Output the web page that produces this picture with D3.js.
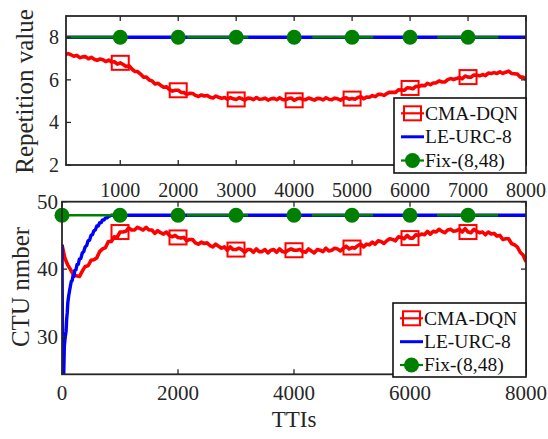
<!DOCTYPE html>
<html>
<head>
<meta charset="utf-8">
<script src="https://cdn.jsdelivr.net/npm/d3@7"></script>
<style>
  body { margin: 0; background: #fff; }
  svg { display: block; }
</style>
</head>
<body>
<svg id="chart" width="548" height="439" font-family="'Liberation Serif', 'Times New Roman', Times, serif"></svg>
<script>
// ---- data ----
// CMA-DQN samples, one every 50 TTIs from 0 to 8000
const cmaTTI = d3.range(0, 8001, 50);
const cmaRepetition = [
  7.25, 7.18, 7.23, 7.18, 7.11, 7.15, 7.04, 7.08, 7.09, 6.99,
  7.06, 6.97, 6.92, 6.98, 6.95, 6.86, 6.93, 6.84, 6.85, 6.74,
  6.80, 6.72, 6.63, 6.66, 6.51, 6.40, 6.39, 6.27, 6.13, 6.13,
  5.99, 5.95, 5.81, 5.84, 5.74, 5.65, 5.67, 5.54, 5.47, 5.51,
  5.51, 5.41, 5.40, 5.32, 5.37, 5.36, 5.27, 5.22, 5.29, 5.24,
  5.27, 5.18, 5.15, 5.24, 5.18, 5.13, 5.17, 5.09, 5.17, 5.11,
  5.08, 5.16, 5.11, 5.05, 5.14, 5.13, 5.07, 5.17, 5.09, 5.10,
  5.14, 5.05, 5.11, 5.13, 5.07, 5.16, 5.08, 5.06, 5.12, 5.15,
  5.04, 5.11, 5.14, 5.08, 5.07, 5.15, 5.10, 5.05, 5.13, 5.12,
  5.06, 5.16, 5.09, 5.07, 5.14, 5.11, 5.05, 5.13, 5.16, 5.09,
  5.12, 5.09, 5.17, 5.21, 5.11, 5.19, 5.18, 5.26, 5.21, 5.32,
  5.32, 5.27, 5.36, 5.42, 5.41, 5.41, 5.53, 5.52, 5.51, 5.63,
  5.62, 5.58, 5.70, 5.69, 5.74, 5.72, 5.84, 5.77, 5.85, 5.86,
  5.95, 5.90, 5.90, 6.01, 6.06, 6.02, 6.06, 6.11, 6.05, 6.18,
  6.13, 6.12, 6.23, 6.22, 6.19, 6.25, 6.20, 6.32, 6.30, 6.34,
  6.30, 6.38, 6.30, 6.36, 6.41, 6.30, 6.29, 6.27, 6.13, 6.13,
  6.02
];
const cmaCtu = [
  43.6, 41.6, 40.6, 39.9, 39.1, 39.0, 38.9, 39.7, 40.4, 40.5,
  41.3, 41.4, 41.7, 42.6, 43.0, 43.2, 44.1, 44.1, 44.8, 44.7,
  45.5, 45.5, 45.6, 46.1, 45.8, 45.8, 46.2, 46.0, 45.8, 46.2,
  45.8, 45.8, 45.3, 45.7, 45.4, 45.2, 45.5, 45.0, 44.8, 45.0,
  44.7, 44.6, 44.7, 44.2, 44.4, 44.4, 43.9, 43.7, 44.0, 43.8,
  43.9, 43.5, 43.3, 43.7, 43.4, 43.1, 43.3, 42.8, 43.3, 42.9,
  42.9, 43.1, 42.9, 42.5, 42.9, 42.9, 42.5, 43.0, 42.6, 42.6,
  42.9, 42.4, 42.8, 42.9, 42.5, 43.0, 42.6, 42.5, 42.8, 43.0,
  42.8, 42.8, 42.9, 42.6, 42.5, 43.0, 42.7, 42.4, 42.9, 42.8,
  42.6, 43.1, 42.7, 42.8, 43.1, 43.0, 42.7, 43.1, 43.4, 43.0,
  43.2, 43.1, 43.5, 43.7, 43.3, 43.7, 43.6, 44.0, 43.7, 44.2,
  44.1, 43.8, 44.2, 44.5, 44.4, 44.2, 44.8, 44.7, 44.5, 45.0,
  44.6, 44.6, 45.1, 45.0, 45.2, 45.1, 45.6, 45.2, 45.6, 45.5,
  45.9, 45.6, 45.4, 45.8, 45.9, 45.6, 45.7, 45.9, 45.5, 46.0,
  45.5, 45.4, 45.9, 45.6, 45.4, 45.5, 45.1, 45.5, 45.2, 45.3,
  44.9, 45.0, 44.4, 44.5, 44.5, 43.8, 43.6, 43.3, 42.5, 42.1,
  41.1
];

// LE-URC-8
const leUrcRepTTI = [0, 8000];
const leUrcRepetition = [8, 8];
const leUrcCtuTTI = [
  0, 5, 10, 20, 30, 40, 50, 60, 70, 80, 90, 100, 115, 130, 145, 160, 175, 190,
  205, 220, 240, 260, 280, 300, 325, 350, 375, 400, 425, 450, 475, 500, 525,
  550, 575, 600, 625, 650, 675, 700, 725, 750, 775, 800, 825, 850, 8000
];
const leUrcCtu = [
  43.6, 35.0, 24.0, 24.0, 24.5, 28.5, 29.5, 30.2, 30.8, 32.5, 33.5, 35.0, 36.0,
  36.8, 37.5, 38.2, 38.3, 39.0, 38.9, 39.8, 39.9, 40.7, 40.7, 41.5, 41.6, 42.4,
  42.6, 43.3, 43.5, 44.2, 44.3, 45.0, 45.1, 45.7, 45.8, 46.4, 46.4, 46.9, 46.9,
  47.3, 47.3, 47.6, 47.6, 47.8, 47.9, 48.0, 48.0
];

// Fix-(8,48)
const fixTTI = [0, 8000];
const fixRepetition = [8, 8];
const fixCtu = [48, 48];

// marker positions along the curves
const squareTTIs = [1000, 2000, 3000, 4000, 5000, 6000, 7000];
const circleTTIs = [0, 1000, 2000, 3000, 4000, 5000, 6000, 7000];

// axes
const repTicks = [2, 4, 6, 8];
const repTTITicks = [1000, 2000, 3000, 4000, 5000, 6000, 7000, 8000];
const ctuTicks = [30, 40, 50];
const ctuTTITicks = [0, 2000, 4000, 6000, 8000];
const seriesNames = ["CMA-DQN", "LE-URC-8", "Fix-(8,48)"];
const seriesColors = ["#ff0000", "#0000ff", "#008000"];

// ---- drawing ----
const svg = d3.select("#chart");
svg.append("rect").attr("width", 548).attr("height", 439).attr("fill", "#fff");

const AXIS = "#262626";
const TEXT = "#262626";

function panel(cfg) {
  const x = d3.scaleLinear().domain(cfg.xDomain).range([cfg.left, cfg.right]);
  const y = d3.scaleLinear().domain(cfg.yDomain).range([cfg.bottom, cfg.top]);
  const g = svg.append("g");

  const clipId = "clip-" + cfg.id;
  svg.append("clipPath").attr("id", clipId)
    .append("rect")
    .attr("x", cfg.left).attr("y", cfg.top)
    .attr("width", cfg.right - cfg.left).attr("height", cfg.bottom - cfg.top);

  const plot = g.append("g").attr("clip-path", `url(#${clipId})`);
  const line = d3.line().x(d => x(d[0])).y(d => y(d[1]));
  const zipped = (xs, ys) => xs.map((v, i) => [v, ys[i]]);

  // CMA-DQN
  plot.append("path")
    .attr("d", line(zipped(cmaTTI, cfg.cma)))
    .attr("fill", "none").attr("stroke", seriesColors[0])
    .attr("stroke-width", 3.6).attr("stroke-linejoin", "round");
  // LE-URC-8
  plot.append("path")
    .attr("d", line(zipped(cfg.leX, cfg.leY)))
    .attr("fill", "none").attr("stroke", seriesColors[1])
    .attr("stroke-width", 3.4).attr("stroke-linejoin", "round");
  // Fix-(8,48), drawn over the coincident LE-URC-8 line
  plot.append("path")
    .attr("d", line(zipped(fixTTI, cfg.fix)))
    .attr("fill", "none").attr("stroke", seriesColors[2])
    .attr("stroke-width", 2.6).attr("stroke-dasharray", "61,64");

  // square markers on CMA-DQN
  plot.selectAll("rect.sq").data(squareTTIs).join("rect")
    .attr("class", "sq")
    .attr("x", d => x(d) - 8.5)
    .attr("y", d => y(cfg.cma[cmaTTI.indexOf(d)]) - 7)
    .attr("width", 17).attr("height", 14)
    .attr("fill", "none").attr("stroke", seriesColors[0]).attr("stroke-width", 2);

  // circle markers on Fix-(8,48)
  g.selectAll("circle.fx").data(circleTTIs.filter(d => d >= cfg.xDomain[0])).join("circle")
    .attr("class", "fx")
    .attr("cx", d => x(d)).attr("cy", y(cfg.fix[0])).attr("r", 7.5)
    .attr("fill", seriesColors[2]);

  // ticks pointing inward on all four sides
  const tl = 5;
  const tk = g.append("g").attr("stroke", AXIS).attr("stroke-width", 1.3);
  cfg.xTicks.forEach(t => {
    tk.append("line").attr("x1", x(t)).attr("x2", x(t)).attr("y1", cfg.bottom).attr("y2", cfg.bottom - tl);
    tk.append("line").attr("x1", x(t)).attr("x2", x(t)).attr("y1", cfg.top).attr("y2", cfg.top + tl);
  });
  cfg.yTicks.forEach(t => {
    tk.append("line").attr("x1", cfg.left).attr("x2", cfg.left + tl).attr("y1", y(t)).attr("y2", y(t));
    tk.append("line").attr("x1", cfg.right).attr("x2", cfg.right - tl).attr("y1", y(t)).attr("y2", y(t));
  });

  // frame
  g.append("rect")
    .attr("x", cfg.left).attr("y", cfg.top)
    .attr("width", cfg.right - cfg.left).attr("height", cfg.bottom - cfg.top)
    .attr("fill", "none").attr("stroke", AXIS).attr("stroke-width", 1.8);

  // tick labels
  g.selectAll("text.xl").data(cfg.xTicks).join("text")
    .attr("class", "xl")
    .attr("x", d => x(d)).attr("y", cfg.xLabelBaseline)
    .attr("text-anchor", "middle").attr("font-size", cfg.tickFont).attr("fill", TEXT)
    .text(d => d);
  g.selectAll("text.yl").data(cfg.yTicks).join("text")
    .attr("class", "yl")
    .attr("x", cfg.left - cfg.yLabelGap).attr("y", d => y(d)).attr("dy", "0.34em")
    .attr("text-anchor", "end").attr("font-size", cfg.tickFont).attr("fill", TEXT)
    .text(d => d);

  // axis title
  g.append("text")
    .attr("transform", `translate(${cfg.titleX},${cfg.titleY}) rotate(-90)`)
    .attr("text-anchor", "middle").attr("font-size", 25).attr("fill", TEXT)
    .text(cfg.title);

  // legend
  const L = cfg.legend;
  const lg = g.append("g");
  lg.append("rect").attr("x", L.x).attr("y", L.y).attr("width", L.w).attr("height", L.h)
    .attr("fill", "#fff").attr("stroke", "#111").attr("stroke-width", 1.6);
  L.rows.forEach((ry, i) => {
    lg.append("line").attr("x1", L.x + 7).attr("x2", L.x + 30).attr("y1", ry).attr("y2", ry)
      .attr("stroke", seriesColors[i]).attr("stroke-width", i === 1 ? 3 : 2.2);
    const mx = L.x + 18.5;
    if (i === 0) {
      lg.append("rect").attr("x", mx - 8.5).attr("y", ry - 7).attr("width", 17).attr("height", 14)
        .attr("fill", "none").attr("stroke", seriesColors[0]).attr("stroke-width", 2);
    } else if (i === 2) {
      lg.append("circle").attr("cx", mx).attr("cy", ry).attr("r", 7.5).attr("fill", seriesColors[2]);
    }
    lg.append("text").attr("x", L.x + 31).attr("y", ry).attr("dy", "0.33em")
      .attr("font-size", 19.5).attr("fill", "#111")
      .text(seriesNames[i]);
  });
}

panel({
  id: "rep",
  left: 66, right: 526, top: 16, bottom: 165,
  xDomain: [64, 8000], yDomain: [2, 9],
  cma: cmaRepetition, leX: leUrcRepTTI, leY: leUrcRepetition, fix: fixRepetition,
  xTicks: repTTITicks, yTicks: repTicks,
  tickFont: 20, xLabelBaseline: 196.5, yLabelGap: 7,
  title: "Repetition value", titleX: 33, titleY: 91.5,
  legend: { x: 394, y: 98, w: 132, h: 75, rows: [113.3, 136.8, 160.5] }
});

panel({
  id: "ctu",
  left: 62, right: 526, top: 201.7, bottom: 374.3,
  xDomain: [0, 8000], yDomain: [24.4, 50],
  cma: cmaCtu, leX: leUrcCtuTTI, leY: leUrcCtu, fix: fixCtu,
  xTicks: ctuTTITicks, yTicks: ctuTicks,
  tickFont: 21, xLabelBaseline: 400, yLabelGap: 4,
  title: "CTU nmber", titleX: 29, titleY: 287,
  legend: { x: 393, y: 303, w: 133, h: 74, rows: [318.3, 341.7, 365] }
});

// shared x title
svg.append("text")
  .attr("x", 294).attr("y", 427)
  .attr("text-anchor", "middle").attr("font-size", 23).attr("fill", TEXT)
  .text("TTIs");
</script>
</body>
</html>
